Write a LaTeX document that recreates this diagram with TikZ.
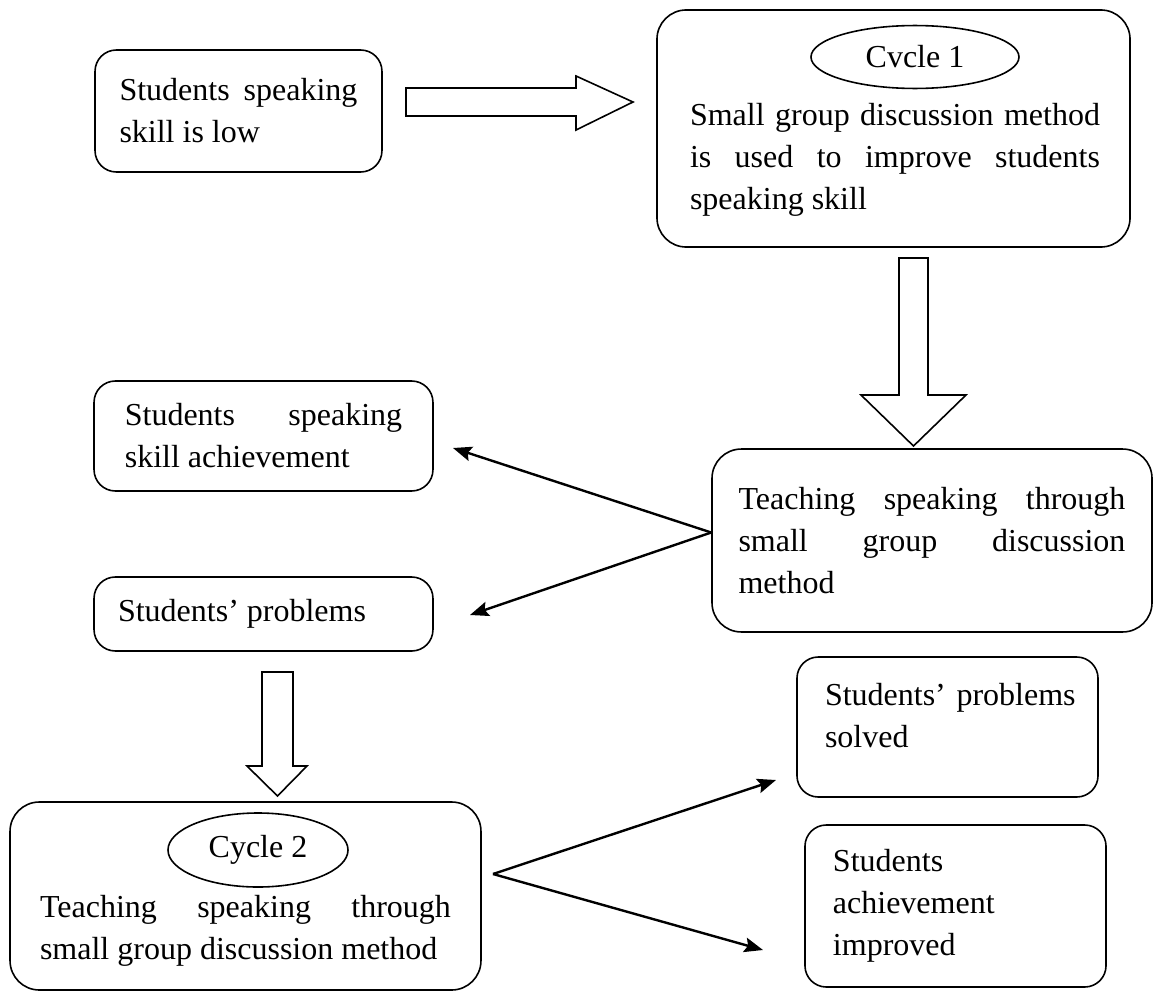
\documentclass[tikz,border=0pt]{standalone}
\usepackage{fontspec}
\setmainfont{Liberation Serif}
\usetikzlibrary{shapes.geometric,arrows.meta}
\newcommand{\bodyfont}{\fontsize{12pt}{15.75pt}\selectfont}
\tolerance=10000
\hbadness=10000
\hyphenpenalty=10000

\begin{document}
\begin{tikzpicture}[x=0.375pt, y=-0.375pt,
  box/.style={draw, rounded corners=8pt, line width=0.6pt, align=justify, inner sep=0pt, font=\bodyfont},
  txt/.style={inner sep=0pt, align=justify, font=\bodyfont},
  oval/.style={draw, ellipse, line width=0.6pt, inner sep=0pt, font=\bodyfont},
  hollow/.style={draw, line width=0.6pt, line join=miter},
  link/.style={line width=0.9pt, -{Stealth[length=7pt,width=5.5pt,inset=1.2pt]}}]

\useasboundingbox (0,0) rectangle (1153,992);

% top row
\node[box, text width=89.25pt, minimum width=107.6pt, minimum height=45.75pt] (low) at (238.5,111) {Students speaking skill is low};

\node[box, rounded corners=11pt, minimum width=177.4pt, minimum height=88.9pt] (cyc1box) at (893.5,128.5) {};
\node[oval, minimum width=78pt, minimum height=23.6pt] (cyc1) at (915,57) {Cvcle 1};
\node[txt, text width=153.75pt] (cyc1txt) at (895,160) {Small group discussion method is used to improve students speaking skill};

\draw[hollow] (406,88) -- (576,88) -- (576,76) -- (633,102) -- (576,130) -- (576,116) -- (406,116) -- cycle;
\draw[hollow] (899,258) -- (928,258) -- (928,395) -- (966,395) -- (913.5,446) -- (861,395) -- (899,395) -- cycle;

% middle row
\node[box, text width=104pt, minimum width=127.1pt, minimum height=41.25pt] (achv) at (263.5,436) {Students speaking skill achievement};
\node[box, rounded corners=11pt, text width=145.1pt, minimum width=165pt, minimum height=68.6pt] (teach) at (932,540.5) {Teaching speaking through small group discussion method};
\node[box, text width=109.1pt, minimum width=127.1pt, minimum height=27.75pt] (prob) at (263.5,614) {Students’ problems};

\coordinate (achvtip) at (453,448);
\coordinate (probtip) at (470,615);
\draw[link] ([yshift=3pt]teach.west) -- (achvtip);
\draw[link] ([yshift=3pt]teach.west) -- (probtip);

\draw[hollow] (262,672) -- (293,672) -- (293,766) -- (307,766) -- (277.5,796) -- (247,766) -- (262,766) -- cycle;

% bottom row
\node[box, rounded corners=11pt, minimum width=176.6pt, minimum height=70.5pt] (cyc2box) at (245.5,896) {};
\node[oval, minimum width=67.5pt, minimum height=27.75pt] (cyc2) at (258,850) {Cycle 2};
\node[txt, text width=154.1pt] (cyc2txt) at (245.5,931) {Teaching speaking through small group discussion method};

\node[box, minimum width=112.9pt, minimum height=52.5pt] (solved) at (947.5,727) {};
\node[txt, align=left, text width=96pt] (solvedtxt) at (953,716) {Students’ problems solved};
\node[box, align=left, text width=91.9pt, minimum width=112.9pt, minimum height=60.75pt] (improved) at (955.5,906) {Students achievement improved};

\coordinate (fork) at (493,874);
\coordinate (solvtip) at (776,780);
\coordinate (imprtip) at (763,950);
\draw[link] (fork) -- (solvtip);
\draw[link] (fork) -- (imprtip);

\end{tikzpicture}
\end{document}
